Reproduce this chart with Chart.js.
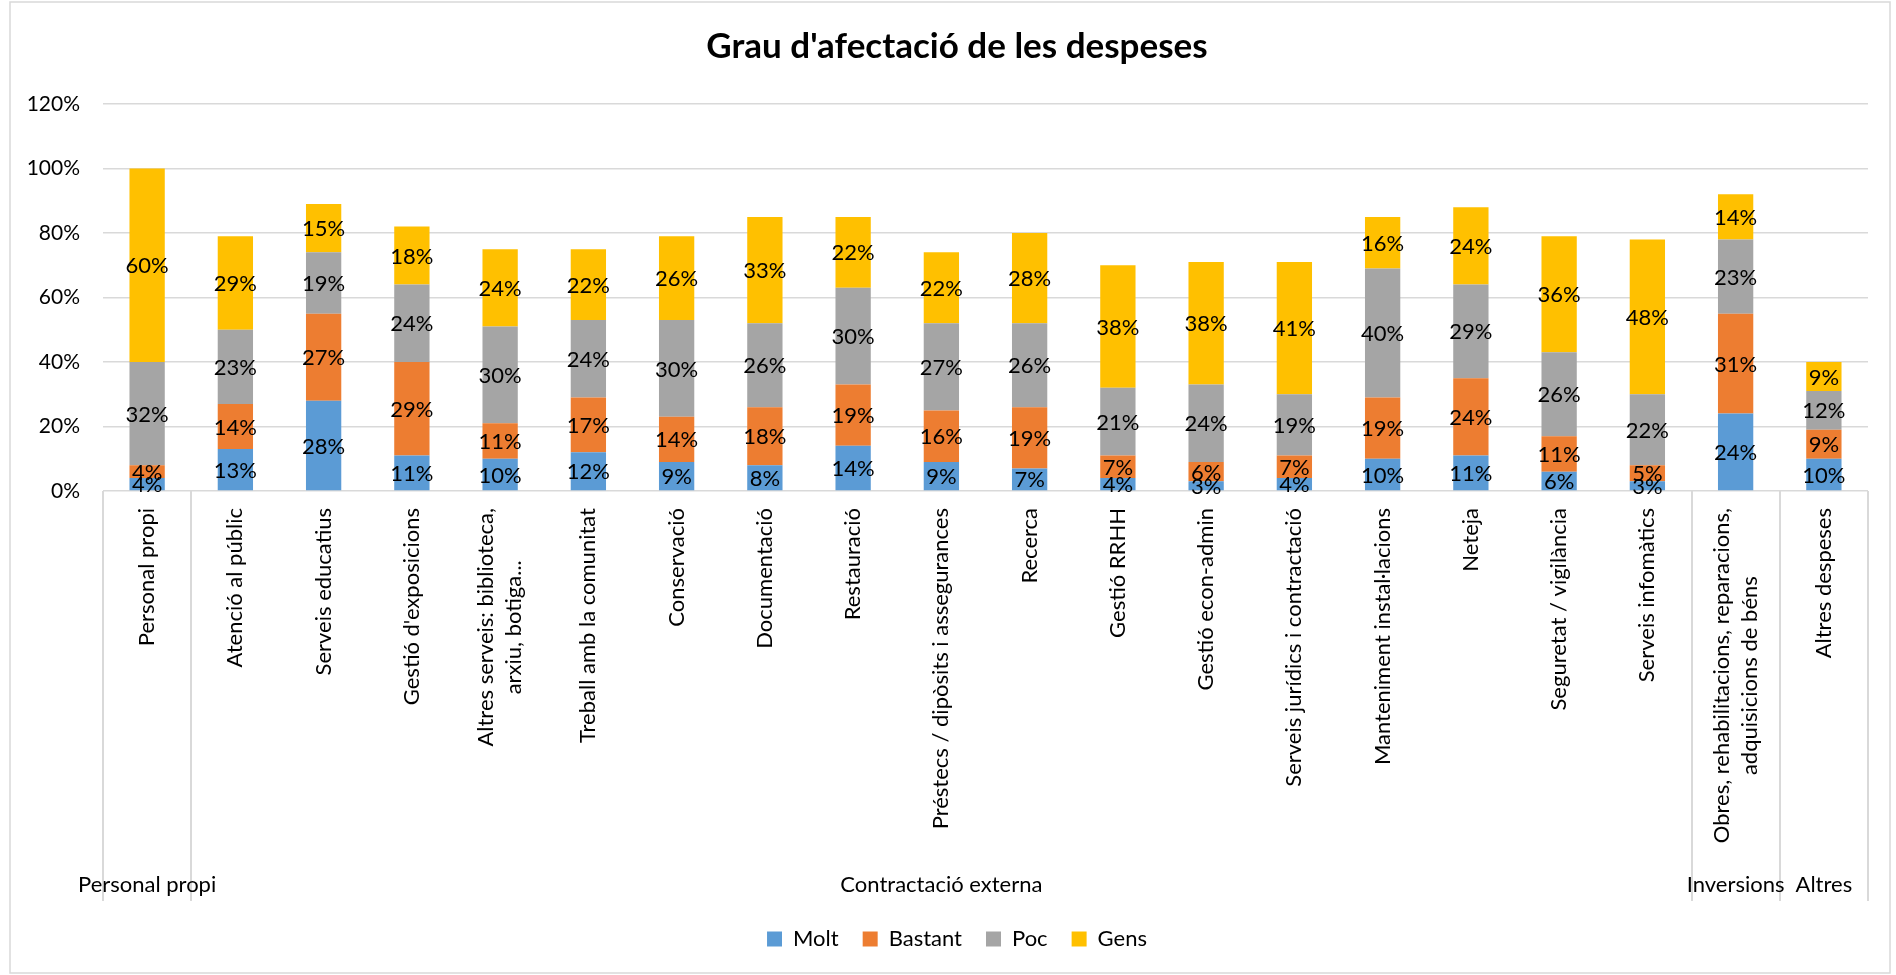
<!DOCTYPE html>
<html><head><meta charset="utf-8">
<script src="https://cdn.jsdelivr.net/npm/chart.js@4"></script>
<style>html,body{margin:0;padding:0;background:#fff;}</style>
</head><body>
<canvas id="c" width="1896" height="975"></canvas>
<script>
const categories = [
  'Personal propi', 'Atenció al públic', 'Serveis educatius', "Gestió d'exposicions",
  ['Altres serveis: biblioteca,', 'arxiu, botiga...'], 'Treball amb la comunitat', 'Conservació',
  'Documentació', 'Restauració', 'Préstecs / dipòsits i assegurances', 'Recerca', 'Gestió RRHH',
  'Gestió econ-admin', 'Serveis jurídics i contractació', 'Manteniment instal·lacions', 'Neteja',
  'Seguretat / vigilància', 'Serveis infomàtics',
  ['Obres, rehabilitacions, reparacions,', 'adquisicions de béns'], 'Altres despeses'
];
const groupLabels = ['Personal propi', 'Contractació externa', 'Inversions', 'Altres'];
const groupSizes = [1, 17, 1, 1];
const seriesNames = ['Molt', 'Bastant', 'Poc', 'Gens'];
const molt    = [4, 13, 28, 11, 10, 12, 9, 8, 14, 9, 7, 4, 3, 4, 10, 11, 6, 3, 24, 10];
const bastant = [4, 14, 27, 29, 11, 17, 14, 18, 19, 16, 19, 7, 6, 7, 19, 24, 11, 5, 31, 9];
const poc     = [32, 23, 19, 24, 30, 24, 30, 26, 30, 27, 26, 21, 24, 19, 40, 29, 26, 22, 23, 12];
const gens    = [60, 29, 15, 18, 24, 22, 26, 33, 22, 22, 28, 38, 38, 41, 16, 24, 36, 48, 14, 9];
const yMin = 0, yMax = 120, yStep = 20;
const title = "Grau d'afectació de les despeses";
const colors = ['#5B9BD5', '#ED7D31', '#A5A5A5', '#FFC000'];

Chart.defaults.font.family = 'Lato, "Open Sans", sans-serif';
Chart.defaults.color = '#000';

const bgPlugin = {
  id: 'bg',
  beforeDraw(chart) {
    const ctx = chart.ctx;
    ctx.save();
    ctx.fillStyle = '#fff';
    ctx.fillRect(0, 0, chart.width, chart.height);
    ctx.strokeStyle = '#d9d9d9';
    ctx.lineWidth = 1.5;
    ctx.strokeRect(10, 2, chart.width - 16, chart.height - 4);
    ctx.restore();
  }
};

const segLabels = {
  id: 'segLabels',
  afterDatasetsDraw(chart) {
    const ctx = chart.ctx;
    ctx.save();
    ctx.font = '22px Lato';
    ctx.fillStyle = '#000';
    ctx.textAlign = 'center';
    ctx.textBaseline = 'middle';
    chart.data.datasets.forEach((ds, di) => {
      const meta = chart.getDatasetMeta(di);
      meta.data.forEach((bar, i) => {
        const y = (bar.y + bar.base) / 2;
        ctx.fillText(ds.data[i] + '%', bar.x, y + 1);
      });
    });
    ctx.restore();
  }
};

const multiAxis = {
  id: 'multiAxis',
  afterDraw(chart) {
    const ctx = chart.ctx;
    const bottom = chart.chartArea.bottom;
    const xs = chart.scales.x;
    const n = categories.length;
    const step = (xs.right - xs.left) / n;
    ctx.save();
    ctx.font = '22px Lato';
    ctx.fillStyle = '#000';
    categories.forEach((lab, i) => {
      const x = xs.getPixelForValue(i);
      const lines = Array.isArray(lab) ? lab : [lab];
      const W = Math.max(...lines.map(l => ctx.measureText(l).width));
      ctx.save();
      ctx.translate(x, bottom + 17 + W / 2);
      ctx.rotate(-Math.PI / 2);
      ctx.textAlign = 'center';
      ctx.textBaseline = 'middle';
      const lh = 28;
      lines.forEach((l, k) => ctx.fillText(l, 0, (k - (lines.length - 1) / 2) * lh));
      ctx.restore();
    });
    const bounds = [0];
    let acc = 0;
    groupSizes.forEach(s => { acc += s; bounds.push(acc); });
    ctx.strokeStyle = '#d9d9d9';
    ctx.lineWidth = 2;
    bounds.forEach(b => {
      const x = Math.round(xs.left + b * step);
      ctx.beginPath();
      ctx.moveTo(x, bottom);
      ctx.lineTo(x, bottom + 410);
      ctx.stroke();
    });
    ctx.textAlign = 'center';
    ctx.textBaseline = 'middle';
    groupLabels.forEach((g, k) => {
      const cx = xs.left + (bounds[k] + bounds[k + 1]) / 2 * step;
      ctx.fillText(g, cx, bottom + 394);
    });
    ctx.restore();
  }
};

const seriesData = [molt, bastant, poc, gens];
new Chart(document.getElementById('c'), {
  type: 'bar',
  data: {
    labels: categories.map(c => Array.isArray(c) ? c.join(' ') : c),
    datasets: seriesNames.map((name, i) => ({
      label: name, data: seriesData[i], backgroundColor: colors[i], borderWidth: 0
    }))
  },
  options: {
    responsive: false, animation: false, devicePixelRatio: 1,
    layout: { padding: { left: 18, right: 0, top: 0, bottom: 15 } },
    datasets: { bar: { barPercentage: 0.4, categoryPercentage: 1 } },
    scales: {
      x: {
        stacked: true, grid: { display: false }, border: { display: false },
        ticks: { display: false },
        afterFit(s) { s.height = 413; }
      },
      y: {
        stacked: true, min: yMin, max: yMax,
        ticks: { stepSize: yStep, callback: v => v + '%', font: { size: 21 }, color: '#000', padding: 23 },
        grid: { color: '#d9d9d9', lineWidth: 1.5, drawTicks: false },
        border: { display: false },
        afterFit(s) { s.width = 85; }
      },
      ySpacer: {
        position: 'right', display: true,
        grid: { display: false }, border: { display: false }, ticks: { display: false },
        afterFit(s) { s.width = 28; }
      }
    },
    plugins: {
      title: { display: true, text: title, font: { size: 35, weight: 'bold' }, color: '#000',
               padding: { top: 26, bottom: 36 } },
      legend: { position: 'bottom',
                labels: { boxWidth: 15, boxHeight: 15, padding: 24, font: { size: 22 }, color: '#000' } },
      tooltip: { enabled: false }
    }
  },
  plugins: [bgPlugin, segLabels, multiAxis]
});
</script>
</body></html>
